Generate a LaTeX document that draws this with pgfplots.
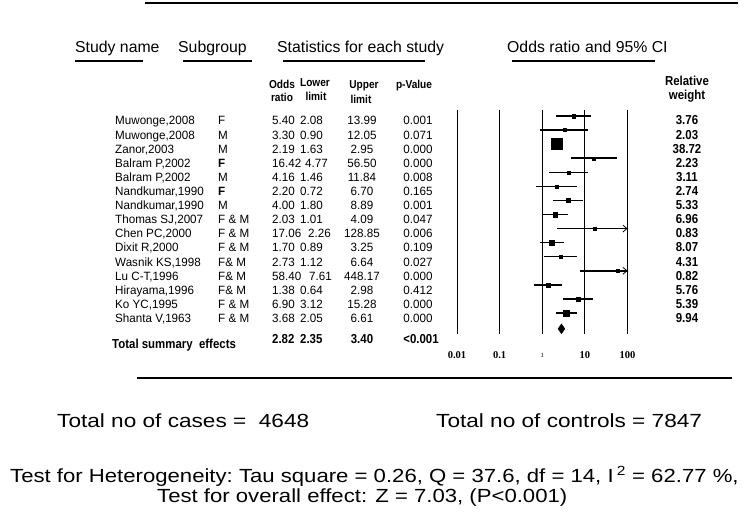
\documentclass[border=0pt]{standalone}
\usepackage{pgfplots}
\pgfplotsset{compat=1.18}
\usepackage{pgfplotstable}
\usepackage{fontspec}
\usetikzlibrary{arrows.meta}
\setmainfont{Liberation Sans}
\newfontfamily\tabfont{Liberation Sans}[FakeStretch=0.97]
\newfontfamily\bnfont{Liberation Sans}[FakeStretch=0.88]
\newfontfamily\bigfont{Liberation Sans}[FakeStretch=1.19]
\newfontfamily\hetfont{Liberation Sans}[FakeStretch=1.165]
\newfontfamily\tickfont{Liberation Serif}
\newcommand\TF{\tabfont\fontsize{12}{14}\selectfont}
\newcommand\BF{\bnfont\bfseries\fontsize{13}{15}\selectfont}
\newcommand\HF{\fontsize{15.8}{18}\selectfont}
\newcommand\CF{\bnfont\bfseries\fontsize{11.5}{13}\selectfont}
\newcommand\LF{\bigfont\fontsize{19}{22}\selectfont}
\newcommand\HTF{\hetfont\fontsize{19}{22}\selectfont}
\newcommand\TK[1]{\tickfont\bfseries\fontsize{10.5}{12}\selectfont #1}

\pgfplotstableread{
row or lo hi w
1 5.40 2.08 13.99 3.76
2 3.30 0.90 12.05 2.03
3 2.19 1.63 2.95 38.72
4 16.42 4.77 56.50 2.23
5 4.16 1.46 11.84 3.11
6 2.20 0.72 6.70 2.74
7 4.00 1.80 8.89 5.33
8 2.03 1.01 4.09 6.96
9 17.06 2.26 128.85 0.83
10 1.70 0.89 3.25 8.07
11 2.73 1.12 6.64 4.31
12 58.40 7.61 448.17 0.82
13 1.38 0.64 2.98 5.76
14 6.90 3.12 15.28 5.39
15 3.68 2.05 6.61 9.94
}\forestdata

\begin{document}
\begin{tikzpicture}[x=1pt,y=-1pt]
\path[use as bounding box] (0,0) rectangle (753,516);
% rules
\draw[line width=2pt] (145,3) -- (738,3);
\draw[line width=2pt] (137,378) -- (732,378);
% headers
\node[anchor=base west,inner sep=0] at (75,53) {\HF Study name};
\node[anchor=base west,inner sep=0] at (178,53) {\HF Subgroup};
\node[anchor=base west,inner sep=0] at (277,53) {\HF Statistics for each study};
\node[anchor=base west,inner sep=0] at (507,53) {\HF Odds ratio\hspace{5pt}and 95\% CI};
\draw[line width=1.8pt] (75,61) -- (143,61);
\draw[line width=1.8pt] (183,61) -- (252,61);
\draw[line width=1.8pt] (283,61) -- (425,61);
\draw[line width=1.8pt] (512,61) -- (655,61);
% column headers
\node[anchor=base,inner sep=0] at (282,88.5) {\CF Odds};
\node[anchor=base,inner sep=0] at (282,102) {\CF ratio};
\node[anchor=base,inner sep=0] at (315,86.5) {\CF Lower};
\node[anchor=base,inner sep=0] at (316,101) {\CF limit};
\node[anchor=base,inner sep=0] at (364,89) {\CF Upper};
\node[anchor=base,inner sep=0] at (361,104) {\CF limit};
\node[anchor=base,inner sep=0] at (414,89) {\CF p-Value};
\node[anchor=base,inner sep=0] at (687,86) {\BF Relative};
\node[anchor=base,inner sep=0] at (687,99.5) {\BF weight};
% study rows
\foreach \y/\lx/\nm/\sg/\o/\l/\h/\p/\w in {
125/300/{Muwonge,2008}/F/5.40/2.08/13.99/0.001/3.76,
139.1/300/{Muwonge,2008}/M/3.30/0.90/12.05/0.071/2.03,
153.2/300/{Zanor,2003}/M/2.19/1.63/2.95/0.000/38.72,
167.3/305/{Balram P,2002}/{\bfseries F}/16.42/4.77/56.50/0.000/2.23,
181.4/300/{Balram P,2002}/M/4.16/1.46/11.84/0.008/3.11,
195.5/300/{Nandkumar,1990}/{\bfseries F}/2.20/0.72/6.70/0.165/2.74,
209.6/300/{Nandkumar,1990}/M/4.00/1.80/8.89/0.001/5.33,
223.7/300/{Thomas SJ,2007}/{F \& M}/2.03/1.01/4.09/0.047/6.96,
237.8/308/{Chen PC,2000}/{F \& M}/17.06/2.26/128.85/0.006/0.83,
251.9/300/{Dixit R,2000}/{F \& M}/1.70/0.89/3.25/0.109/8.07,
266/300/{Wasnik KS,1998}/{F\& M}/2.73/1.12/6.64/0.027/4.31,
280.1/309/{Lu C-T,1996}/{F\& M}/58.40/7.61/448.17/0.000/0.82,
294.2/300/{Hirayama,1996}/{F\& M}/1.38/0.64/2.98/0.412/5.76,
308.3/300/{Ko YC,1995}/{F \& M}/6.90/3.12/15.28/0.000/5.39,
322.4/300/{Shanta V,1963}/{F \& M}/3.68/2.05/6.61/0.000/9.94}
{
\node[anchor=base west,inner sep=0] at (115,\y) {\TF\nm};
\node[anchor=base west,inner sep=0] at (218,\y) {\TF\sg};
\node[anchor=base west,inner sep=0] at (272,\y) {\TF\o};
\node[anchor=base west,inner sep=0] at (\lx,\y) {\TF\l};
\node[anchor=base,inner sep=0] at (362,\y) {\TF\h};
\node[anchor=base,inner sep=0] at (418,\y) {\TF\p};
\node[anchor=base,inner sep=0] at (687,\y) {\BF\w};
}
% total row
\node[anchor=base west,inner sep=0] at (112,348) {\BF Total summary\ \ effects};
\node[anchor=base west,inner sep=0] at (272,343) {\BF 2.82};
\node[anchor=base west,inner sep=0] at (300,343) {\BF 2.35};
\node[anchor=base,inner sep=0] at (362,343) {\BF 3.40};
\node[anchor=base,inner sep=0] at (421,343) {\BF <0.001};
% bottom text
\node[anchor=base west,inner sep=0] at (57,427) {\LF Total no of cases =\ \ 4648};
\node[anchor=base west,inner sep=0] at (436,427) {\LF Total no of controls = 7847};
\node[anchor=base west,inner sep=0] at (10,482) {\HTF Test for Heterogeneity:\ Tau square = 0.26, Q = 37.6, df = 14, I\,\textsuperscript{2} = 62.77 \%,};
\node[anchor=base west,inner sep=0] at (157,502) {\HTF Test for overall effect: Z = 7.03, (P<0.001)};
% forest plot
\begin{semilogxaxis}[at={(542.25pt,-222pt)}, anchor=center, scale only axis,
  width=171.6pt, height=224pt,
  xmin=0.00971, xmax=103, ymin=0.574, ymax=16.49, y dir=reverse,
  axis line style={draw=none}, ytick=\empty,
  xtick={0.01,0.1,1,10,100},
  xticklabels={\TK{0.01},\TK{0.1},{\tickfont\fontsize{6.5}{7}\selectfont 1},\TK{10},\TK{100}},
  xticklabel style={anchor=center, yshift=-21pt},
  major tick length=0pt, xminorticks=false, clip=true]
\addplot[black, line width=0.9pt] coordinates {(0.01,0.574) (0.01,16.49)};
\addplot[black, line width=1.5pt] coordinates {(0.1,0.574) (0.1,16.49)};
\addplot[black, line width=1.5pt] coordinates {(1,0.574) (1,16.49)};
\addplot[black, line width=0.9pt] coordinates {(10,0.574) (10,16.49)};
\addplot[black, line width=1.1pt] coordinates {(100,0.574) (100,16.49)};
\addplot[black, only marks, mark=square*, scatter, point meta=\thisrow{w},
  scatter/use mapped color={draw=black, fill=black},
  visualization depends on={max(1.5,5.5*sqrt(\thisrow{w}/38.72)) \as \ms},
  scatter/@pre marker code/.append style={/tikz/mark size=\ms},
  error bars/.cd, x dir=both, x explicit, error mark=none,
  error bar style={line width=1.45pt, black}]
  table[x=or, y=row, x error plus expr=\thisrow{hi}-\thisrow{or}, x error minus expr=\thisrow{or}-\thisrow{lo}] {\forestdata};
\addplot[black, line width=1.45pt, -{Straight Barb[length=4pt, width=7pt, line width=0.8pt]}] coordinates {(17.06,9) (100,9)};
\addplot[black, line width=1.45pt, -{Straight Barb[length=4pt, width=7pt, line width=0.8pt]}] coordinates {(58.40,12) (100,12)};
\addplot[black, fill=black] coordinates {(2.35,16.12) (2.82,15.77) (3.40,16.12) (2.82,16.47)} -- cycle;
\end{semilogxaxis}
\end{tikzpicture}
\end{document}
